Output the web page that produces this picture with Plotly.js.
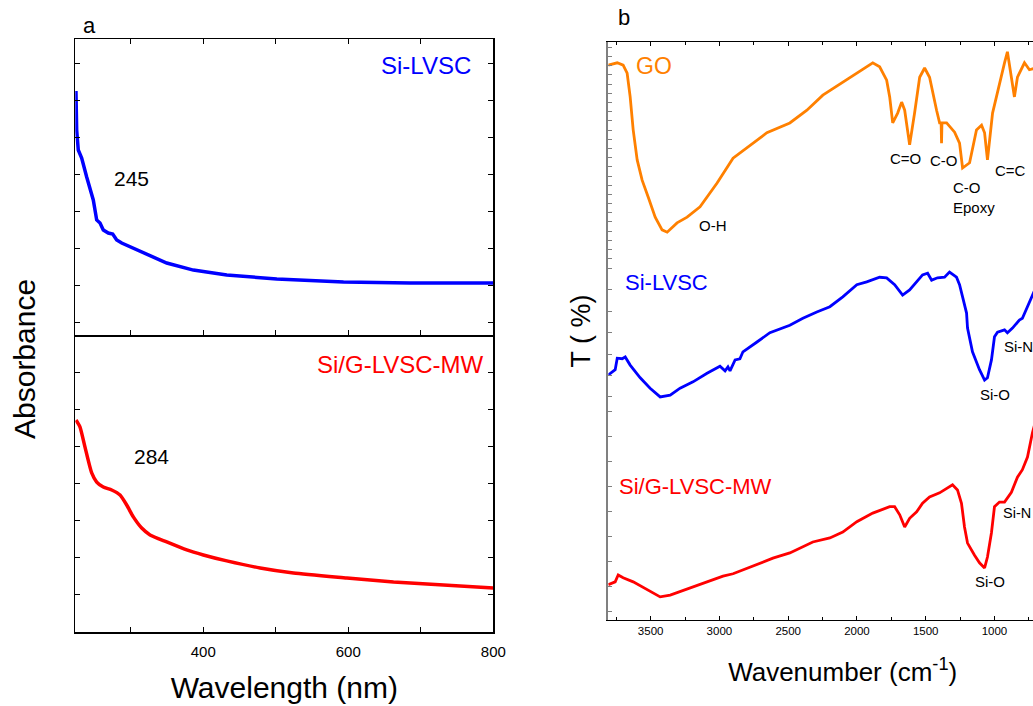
<!DOCTYPE html>
<html><head><meta charset="utf-8">
<script src="https://cdn.plot.ly/plotly-3.0.1.min.js"></script>
<style>html,body{margin:0;padding:0;overflow:hidden;background:#fff}#chart{width:1090px;height:706px}</style>
</head><body><div id="chart"></div>
<script>
const W = 1090, H = 706;
const FONT = 'Liberation Sans, Arial, Helvetica, sans-serif';

// ---- Panel a: UV-vis absorbance ----
const wlSiLVSC  = [224.4, 225.4, 227.6, 232.3, 239.2, 248.3, 253.0, 257.6, 262.1, 269.0, 275.1, 280.6, 287.5, 317.3, 349.6, 386.3, 432.4, 501.4, 593.4, 685.4, 800];
const absSiLVSC = [1.319, 1.108, 1.000, 0.957, 0.854, 0.730, 0.622, 0.605, 0.568, 0.551, 0.546, 0.514, 0.497, 0.443, 0.389, 0.351, 0.324, 0.303, 0.286, 0.281, 0.281];
const wlSiG  = [224.4, 229.9, 236.8, 246.1, 253.0, 262.1, 273.7, 285.2, 294.4, 303.5, 315.1, 326.6, 349.6, 377.2, 400.1, 432.4, 478.4, 524.4, 598.1, 662.4, 731.4, 800];
const absSiG = [1.142, 1.105, 0.997, 0.857, 0.808, 0.781, 0.765, 0.738, 0.684, 0.620, 0.560, 0.523, 0.485, 0.442, 0.415, 0.383, 0.345, 0.318, 0.291, 0.269, 0.253, 0.237];

// ---- Panel b: FTIR transmittance ----
const wnGO = [3808, 3743, 3700, 3671, 3649, 3627, 3598, 3562, 3518, 3467, 3417, 3380, 3308, 3235, 3141, 3017, 2901, 2727, 2655, 2488, 2364, 2248, 2052, 1885, 1835, 1784, 1762, 1740, 1704, 1675, 1653, 1617, 1581, 1544, 1508, 1472, 1421, 1399, 1388, 1385, 1382, 1348, 1290, 1254, 1232, 1181, 1131, 1094, 1072, 1051, 1014, 964, 927, 906, 877, 855, 833, 782, 746, 700];
const tGO  = [96.0, 96.4, 96.0, 94.6, 90.5, 84.8, 79.6, 76.1, 73.2, 69.7, 67.5, 67.1, 68.7, 69.7, 71.5, 75.6, 79.9, 83.0, 84.3, 86.0, 88.2, 90.8, 93.9, 96.4, 95.7, 93.4, 90.5, 86.0, 87.7, 89.6, 88.2, 82.2, 87.7, 93.9, 95.5, 93.9, 88.2, 86.0, 86.0, 82.5, 86.0, 86.0, 84.4, 82.5, 78.2, 79.1, 84.8, 85.6, 84.3, 79.6, 87.7, 92.9, 96.4, 98.3, 93.4, 90.5, 93.9, 96.4, 95.2, 95.5];
const wnSi = [3808, 3758, 3743, 3707, 3685, 3649, 3576, 3504, 3431, 3358, 3286, 3192, 3090, 2996, 2959, 2938, 2923, 2886, 2851, 2829, 2727, 2633, 2488, 2393, 2292, 2197, 2103, 2001, 1929, 1835, 1784, 1726, 1668, 1617, 1523, 1486, 1457, 1414, 1363, 1327, 1276, 1254, 1232, 1203, 1196, 1160, 1109, 1072, 1051, 1022, 1000, 978, 927, 906, 869, 819, 797, 760, 724, 700];
const tSi  = [42.4, 43.3, 45.3, 45.2, 45.5, 44.1, 41.9, 40.1, 38.6, 38.9, 40.1, 41.2, 42.7, 43.9, 43.1, 43.8, 43.1, 45.0, 45.2, 46.4, 48.1, 49.7, 51.0, 52.2, 53.3, 54.2, 55.9, 58.0, 58.5, 59.3, 59.2, 58.0, 56.2, 57.1, 59.7, 60.0, 58.8, 59.2, 59.3, 60.2, 59.3, 58.0, 55.9, 53.1, 50.5, 46.4, 43.3, 41.5, 41.9, 45.0, 49.0, 49.8, 50.2, 49.7, 50.5, 51.9, 52.2, 54.2, 56.0, 57.5];
const wnSiG = [3808, 3758, 3736, 3700, 3627, 3525, 3431, 3358, 3213, 3090, 2974, 2901, 2778, 2611, 2488, 2393, 2321, 2197, 2103, 2001, 1885, 1762, 1726, 1689, 1653, 1617, 1566, 1523, 1472, 1399, 1348, 1305, 1269, 1240, 1218, 1196, 1145, 1109, 1072, 1051, 1022, 1000, 964, 927, 877, 833, 797, 760, 724, 700];
const tSiG  = [6.1, 6.6, 7.8, 7.3, 6.6, 5.2, 4.0, 4.3, 5.5, 6.6, 7.6, 8.0, 9.2, 10.7, 11.6, 12.6, 13.5, 14.2, 15.2, 17.0, 18.5, 19.6, 19.6, 18.2, 16.1, 17.6, 18.7, 20.2, 21.3, 22.0, 22.8, 23.4, 22.5, 20.2, 16.1, 13.3, 11.2, 9.9, 9.0, 10.9, 15.1, 19.6, 20.4, 20.4, 22.1, 24.7, 26.0, 28.2, 32.4, 34.5];

// labelled wavenumber ticks (panel b)
const wnTickVals = [3500, 3000, 2500, 2000, 1500, 1000];

// tick marks on the T axis (unlabelled)
const tTicks = [];
for (let v = 1.44; v < 37; v += 4.33) tTicks.push(+v.toFixed(2));
for (let v = 38.6; v < 61.5; v += 3.7) tTicks.push(+v.toFixed(2));
for (let v = 62.5; v < 100; v += 1.59) tTicks.push(+v.toFixed(2));

const BLUE = 'rgb(0,0,255)', RED = 'rgb(255,0,0)', ORANGE = 'rgb(255,128,0)';

const traces = [
  {x: wlSiLVSC, y: absSiLVSC, xaxis: 'x2', yaxis: 'y2', mode: 'lines', line: {color: BLUE, width: 3.5}, name: 'Si-LVSC', showlegend: false},
  {x: wlSiG, y: absSiG, xaxis: 'x', yaxis: 'y', mode: 'lines', line: {color: RED, width: 3.5, shape: 'spline', smoothing: 0.6}, name: 'Si/G-LVSC-MW', showlegend: false},
  {x: wnGO, y: tGO, xaxis: 'x3', yaxis: 'y3', mode: 'lines', line: {color: ORANGE, width: 2.8}, name: 'GO', showlegend: false},
  {x: wnSi, y: tSi, xaxis: 'x3', yaxis: 'y3', mode: 'lines', line: {color: BLUE, width: 2.8}, name: 'Si-LVSC', showlegend: false},
  {x: wnSiG, y: tSiG, xaxis: 'x3', yaxis: 'y3', mode: 'lines', line: {color: RED, width: 2.8}, name: 'Si/G-LVSC-MW', showlegend: false}
];

const fx = p => p / W, fy = p => 1 - p / H;
function ann(text, x, y, size, color, xanchor, extra) {
  return Object.assign({text: text, xref: 'paper', yref: 'paper', x: fx(x), y: fy(y), xanchor: xanchor || 'center', yanchor: 'middle',
    showarrow: false, font: {family: FONT, size: size, color: color || '#000'}}, extra || {});
}

const axA = {showline: true, linecolor: '#000', linewidth: 1.5, mirror: 'ticks', ticks: 'inside', ticklen: 5, tickcolor: '#000', showgrid: false, zeroline: false};

const layout = {
  width: W, height: H, margin: {l: 0, r: 0, t: 0, b: 0},
  paper_bgcolor: '#fff', plot_bgcolor: '#fff',
  font: {family: FONT, color: '#000'},
  showlegend: false,
  xaxis: Object.assign({}, axA, {domain: [fx(75.3), fx(493.3)], anchor: 'y', range: [223.5, 800], tick0: 0, dtick: 200, mirror: false,
    minor: {dtick: 100, ticks: 'inside', ticklen: 5, tickcolor: '#000'}, ticklabelstandoff: 5,
    tickfont: {size: 15, family: FONT}, title: {text: 'Wavelength (nm)', font: {size: 30, family: FONT}, standoff: 18}}),
  xaxis2: Object.assign({}, axA, {domain: [fx(75.3), fx(493.3)], anchor: 'y2', matches: 'x', range: [223.5, 800], tick0: 0, dtick: 100, showticklabels: false}),
  yaxis: Object.assign({}, axA, {domain: [fy(632), fy(335)], anchor: 'x', range: [0, 1.6], dtick: 0.2, tick0: 0, showticklabels: false}),
  yaxis2: Object.assign({}, axA, {domain: [fy(335), fy(39)], anchor: 'x2', range: [0, 1.6], dtick: 0.2, tick0: 0.065, showticklabels: false}),
  xaxis3: {domain: [fx(608.3), fx(1077)], anchor: 'y3', range: [3808, 400], tickmode: 'array', tickvals: wnTickVals,
    showline: true, linecolor: '#000', linewidth: 1.3, mirror: 'ticks', ticks: 'inside', ticklen: 4, tickcolor: '#000',
    minor: {dtick: 250, tick0: 0, ticks: 'inside', ticklen: 3, tickcolor: '#000'},
    showgrid: false, zeroline: false, tickfont: {size: 11.5, family: FONT},
    title: {text: 'Wavenumber (cm<sup>-1</sup>)', font: {size: 26, family: FONT}, standoff: 26}},
  yaxis3: {domain: [fy(620), fy(42)], anchor: 'x3', range: [0, 100], tickmode: 'array', tickvals: tTicks,
    showline: true, linecolor: '#808080', linewidth: 2, ticks: 'inside', ticklen: 4, tickcolor: '#808080', tickwidth: 1,
    showticklabels: false, showgrid: false, zeroline: false,
    title: {text: 'T ( %)', font: {size: 27, family: FONT}, standoff: 8}},
  annotations: [
    ann('a', 89, 25, 22),
    ann('b', 624, 17, 22),
    ann('Absorbance', 24, 359, 30, '#000', 'center', {textangle: -90}),
    ann('Si-LVSC', 473, 66, 24, BLUE, 'right'),
    ann('245', 131, 179, 21),
    ann('Si/G-LVSC-MW', 486, 364, 24, RED, 'right'),
    ann('284', 151, 456, 21),
    ann('GO', 634, 66, 23, ORANGE, 'left'),
    ann('O-H', 697, 225, 15, '#000', 'left'),
    ann('C=O', 888, 158, 15, '#000', 'left'),
    ann('C-O', 928, 161, 15, '#000', 'left'),
    ann('C-O<br>Epoxy', 951, 198, 15, '#000', 'left', {align: 'left'}),
    ann('C=C', 993, 170, 15, '#000', 'left'),
    ann('Si-LVSC', 623, 282, 22, BLUE, 'left'),
    ann('Si-N', 1002, 346, 15, '#000', 'left'),
    ann('Si-O', 978, 394, 15, '#000', 'left'),
    ann('Si/G-LVSC-MW', 617, 486, 22, RED, 'left'),
    ann('Si-N', 1001, 513, 14.5, '#000', 'left'),
    ann('Si-O', 973, 581, 15, '#000', 'left')
  ]
};

Plotly.newPlot('chart', traces, layout, {staticPlot: true, displayModeBar: false});
</script>
</body></html>
